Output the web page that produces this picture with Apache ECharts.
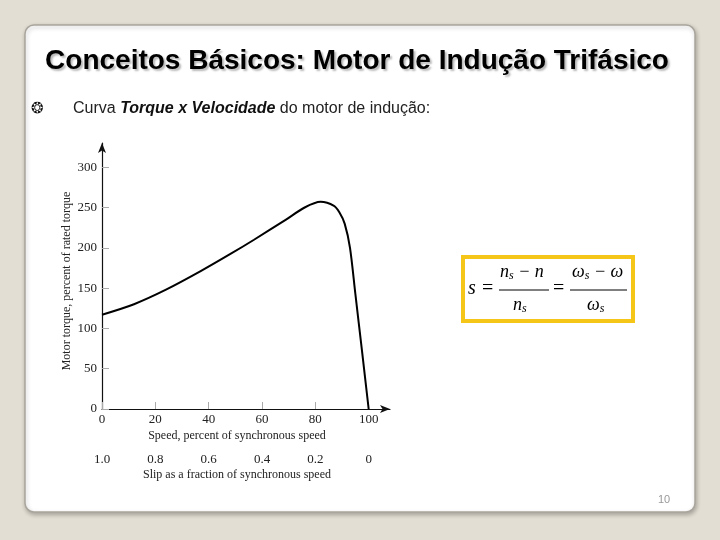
<!DOCTYPE html>
<html>
<head>
<meta charset="utf-8">
<script src="https://cdn.jsdelivr.net/npm/echarts@6/dist/echarts.min.js"></script>
<style>
  html, body { margin: 0; padding: 0; background: #e3ded3; }
  #main { width: 720px; height: 540px; }
</style>
</head>
<body>
<div id="main"></div>
<script>
// speed (% of synchronous) vs motor torque (% of rated)
var speed = [0, 12, 24, 37, 48, 57, 69, 76, 82, 87, 89, 91, 93, 95, 97.5, 100];
var torque = [117, 130, 148, 171, 192, 210, 235, 250, 257, 252, 244, 230, 200, 143, 72, 0];

var speedTicks = [0, 20, 40, 60, 80, 100];
var slipLabels = ['1.0', '0.8', '0.6', '0.4', '0.2', '0'];
var torqueTicks = [0, 50, 100, 150, 200, 250, 300];

var serif = '"Liberation Serif", "DejaVu Serif", serif';
var sans = '"Liberation Sans", Arial, sans-serif';

var chart = echarts.init(document.getElementById('main'));

var points = speed.map(function (s, i) { return [s, torque[i]]; });

var option = {
    animation: false,
    backgroundColor: '#e3ded3',
    grid: { left: 102, right: 330, top: 143, bottom: 131 },
    xAxis: [
        {
            type: 'value', min: 0, max: 108,
            name: 'Speed, percent of synchronous speed',
            nameLocation: 'middle', nameGap: 21,
            nameTextStyle: { fontFamily: serif, fontSize: 12, color: '#222', padding: [0, 18, 0, 0] },
            axisLine: { lineStyle: { color: '#111', width: 1.2 }, symbol: ['none', 'arrow'], symbolSize: [6, 10] },
            axisTick: { show: true, inside: true, length: 7, customValues: speedTicks, lineStyle: { color: '#aaa' } },
            axisLabel: { customValues: speedTicks, margin: 4, fontFamily: serif, fontSize: 13, color: '#222' },
            splitLine: { show: false }
        },
        {
            type: 'value', min: 0, max: 108, position: 'bottom', offset: 42,
            name: 'Slip as a fraction of synchronous speed',
            nameLocation: 'middle', nameGap: 18,
            nameTextStyle: { fontFamily: serif, fontSize: 12, color: '#222', padding: [0, 18, 0, 0] },
            axisLine: { show: false },
            axisTick: { show: false },
            axisLabel: {
                customValues: speedTicks, margin: 2, fontFamily: serif, fontSize: 13, color: '#222',
                formatter: function (v) { return slipLabels[speedTicks.indexOf(v)]; }
            },
            splitLine: { show: false }
        }
    ],
    yAxis: {
        type: 'value', min: 0, max: 330,
        name: 'Motor torque, percent of rated torque',
        nameLocation: 'middle', nameGap: 29,
        nameTextStyle: { fontFamily: serif, fontSize: 12, color: '#222', padding: [0, 10, 0, 0] },
        axisLine: { show: true, lineStyle: { color: '#111', width: 1.2 }, symbol: ['none', 'arrow'], symbolSize: [6, 10] },
        axisTick: { show: true, inside: true, length: 7, customValues: torqueTicks, lineStyle: { color: '#aaa' } },
        axisLabel: { customValues: torqueTicks, margin: 5, fontFamily: serif, fontSize: 13, color: '#222' },
        splitLine: { show: false }
    },
    series: [{
        type: 'line',
        data: points,
        smooth: 0.3,
        symbol: 'none',
        lineStyle: { color: '#000', width: 2 }
    }],
    graphic: [
        // slide panel
        {
            type: 'rect', z: -10, silent: true,
            shape: { x: 25, y: 25, width: 670, height: 487, r: 9 },
            style: { fill: '#fff', stroke: '#a9a59d', lineWidth: 1.5, shadowBlur: 4, shadowOffsetX: 1, shadowOffsetY: 2, shadowColor: 'rgba(0,0,0,0.25)' }
        },
        {
            type: 'text', x: 357, y: 61,
            style: {
                text: 'Conceitos Básicos: Motor de Indução Trifásico',
                font: 'bold 28px ' + sans, fill: '#000', align: 'center', verticalAlign: 'middle',
                textShadowColor: 'rgba(0,0,0,0.28)', textShadowOffsetX: 2, textShadowOffsetY: 2, textShadowBlur: 2
            }
        },
        {
            type: 'text', x: 31, y: 109,
            style: { text: '❂', font: 'bold 15px "DejaVu Sans"', fill: '#111', verticalAlign: 'middle' }
        },
        {
            type: 'text', x: 73, y: 109,
            style: {
                text: 'Curva {b|Torque x Velocidade} do motor de indução:',
                font: '16px ' + sans, fill: '#222', verticalAlign: 'middle',
                rich: { b: { font: 'bold italic 16px ' + sans, fill: '#111' } }
            }
        },
        // formula box
        {
            type: 'rect',
            shape: { x: 463, y: 257, width: 170, height: 64 },
            style: { fill: '#fff', stroke: '#f5c518', lineWidth: 4 }
        },
        { type: 'text', x: 468, y: 279, style: { text: 's', font: 'italic 20px ' + serif, fill: '#000' } },
        { type: 'text', x: 482, y: 279, style: { text: '=', font: '20px ' + serif, fill: '#000' } },
        {
            type: 'text', x: 500, y: 262,
            style: { text: 'n{s|s} − n', font: 'italic 18px ' + serif, fill: '#000', rich: { s: { font: 'italic 12px ' + serif, padding: [8, 0, 0, 0] } } }
        },
        { type: 'line', shape: { x1: 499, y1: 290, x2: 549, y2: 290 }, style: { stroke: '#000', lineWidth: 1 } },
        {
            type: 'text', x: 513, y: 295,
            style: { text: 'n{s|s}', font: 'italic 18px ' + serif, fill: '#000', rich: { s: { font: 'italic 12px ' + serif, padding: [8, 0, 0, 0] } } }
        },
        { type: 'text', x: 553, y: 279, style: { text: '=', font: '20px ' + serif, fill: '#000' } },
        {
            type: 'text', x: 572, y: 262,
            style: { text: 'ω{s|s} − ω', font: 'italic 18px ' + serif, fill: '#000', rich: { s: { font: 'italic 12px ' + serif, padding: [8, 0, 0, 0] } } }
        },
        { type: 'line', shape: { x1: 570, y1: 290, x2: 627, y2: 290 }, style: { stroke: '#000', lineWidth: 1 } },
        {
            type: 'text', x: 587, y: 295,
            style: { text: 'ω{s|s}', font: 'italic 18px ' + serif, fill: '#000', rich: { s: { font: 'italic 12px ' + serif, padding: [8, 0, 0, 0] } } }
        },
        { type: 'text', x: 658, y: 494, style: { text: '10', font: '11px ' + sans, fill: '#999' } }
    ]
};

chart.setOption(option);
</script>
</body>
</html>
